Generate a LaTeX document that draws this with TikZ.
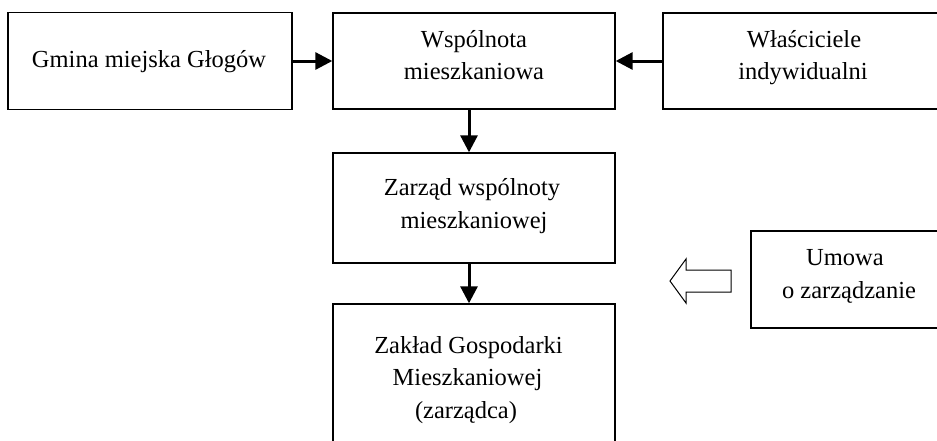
\documentclass[tikz,border=0pt]{standalone}
\usepackage{fontspec}
\setmainfont{Liberation Serif}
\usetikzlibrary{arrows.meta}
\tikzset{
  box/.style={draw, line width=1.4pt, rectangle, inner sep=0pt},
  txt/.style={inner sep=0pt, anchor=base, font=\fontsize{24.5}{32.5}\selectfont},
  conn/.style={line width=3pt, -{Triangle[length=17pt,width=17pt]}},
  hollow/.style={draw, line width=1pt, fill=white, line join=miter}
}
\begin{document}
\begin{tikzpicture}[x=1pt,y=-1pt]
\clip (0,0) rectangle (937,440);
\fill[white] (0,0) rectangle (937,440);
\node[box, minimum width=284pt, minimum height=97pt] (b1) at (150,61) {};
\node[box, minimum width=282pt, minimum height=96pt] (b2) at (474,61) {};
\node[box, minimum width=282pt, minimum height=96pt] (b3) at (804,61) {};
\node[box, minimum width=282pt, minimum height=110pt] (b4) at (474,208) {};
\node[box, minimum width=282pt, minimum height=154pt] (b5) at (474,381) {};
\node[box, minimum width=192pt, minimum height=97pt] (b6) at (847,279.5) {};
\node[txt] (t1) at (149,67) {Gmina miejska Głogów};
\node[txt] (t2a) at (474,47) {Wspólnota};
\node[txt] (t2b) at (474,79.5) {mieszkaniowa};
\node[txt] (t3a) at (804,47) {Właściciele};
\node[txt] (t3b) at (803,79.5) {indywidualni};
\node[txt] (t4a) at (472,195) {Zarząd wspólnoty};
\node[txt] (t4b) at (474,228) {mieszkaniowej};
\node[txt] (t5a) at (468.5,353) {Zakład Gospodarki};
\node[txt] (t5b) at (467.5,385.5) {Mieszkaniowej};
\node[txt] (t5c) at (466,418) {(zarządca)};
\node[txt] (t6a) at (845,265) {Umowa};
\node[txt] (t6b) at (849,298) {o zarządzanie};
\draw[conn] (b1.east) -- (b2.west);
\draw[conn] (b3.west) -- (b2.east);
\draw[conn] ([xshift=-5pt]b2.south) -- ([xshift=-5pt]b4.north);
\draw[conn] ([xshift=-5pt]b4.south) -- ([xshift=-5pt]b5.north);
\path[hollow] (670,281) -- (686,259) -- (686,270) -- (731,270) -- (731,292) -- (686,292) -- (686,303) -- cycle;
\end{tikzpicture}
\end{document}
